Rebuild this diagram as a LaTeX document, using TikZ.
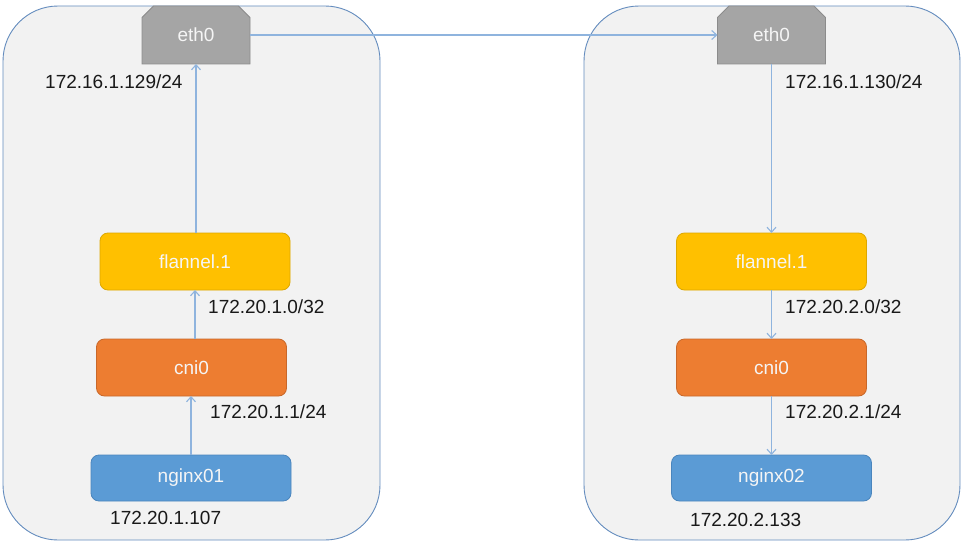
\documentclass[tikz,border=0pt]{standalone}
\usepackage{fontspec}
\setmainfont{Liberation Sans}
\usetikzlibrary{shapes.misc,arrows.meta}
\definecolor{contfill}{HTML}{F2F2F2}
\definecolor{contline}{RGB}{100,140,190}
\definecolor{ethfill}{HTML}{A5A5A5}
\definecolor{ethline}{HTML}{8C8C8C}
\definecolor{flfill}{HTML}{FFC000}
\definecolor{flline}{HTML}{DDA800}
\definecolor{cnifill}{HTML}{ED7D31}
\definecolor{cniline}{HTML}{C9682A}
\definecolor{ngfill}{HTML}{5B9BD5}
\definecolor{ngline}{HTML}{4A85BD}
\definecolor{arrcol}{HTML}{8FB4DE}
\definecolor{txtwhite}{HTML}{F5F5F5}
\begin{document}
\begin{tikzpicture}[x=1pt,y=-1pt,
  container/.style={draw=contline, fill=contfill, line width=0.9pt, rounded corners=55pt},
  ethbox/.style={chamfered rectangle, chamfered rectangle corners={north west,north east},
     chamfered rectangle xsep=9pt, chamfered rectangle ysep=4.5pt,
     draw=ethline, fill=ethfill, line width=0.8pt, minimum width=108pt, minimum height=58pt,
     inner sep=0pt, outer sep=0pt, text=txtwhite, font=\fontsize{19}{21}\selectfont},
  ifbox/.style={rounded corners=8pt, line width=0.8pt, minimum width=190pt, minimum height=57pt,
     inner sep=0pt, outer sep=0pt, text=txtwhite, font=\fontsize{19}{21}\selectfont},
  flbox/.style={ifbox, draw=flline, fill=flfill},
  cnibox/.style={ifbox, draw=cniline, fill=cnifill},
  ngbox/.style={ifbox, draw=ngline, fill=ngfill, minimum width=200pt, minimum height=46pt},
  lbl/.style={anchor=west, inner sep=0pt, text=black!90, font=\fontsize{19}{21}\selectfont},
  arr/.style={draw=arrcol, line width=1.1pt, -{Straight Barb[length=5pt,width=9pt]}}
]
\useasboundingbox (0,0) rectangle (964,543);
% containers
\path[container] (3,6) rectangle (380,540);
\path[container] (584,6) rectangle (960,540);
% left host
\node[ethbox] (leth) at (196,35) {eth0};
\node[flbox] (lfl) at (195,261.5) {flannel.1};
\node[cnibox] (lcni) at (191.5,367.5) {cni0};
\node[ngbox] (lng) at (191,478) {nginx01};
% right host
\node[ethbox] (reth) at (771.5,35) {eth0};
\node[flbox] (rfl) at (771.5,261.5) {flannel.1};
\node[cnibox] (rcni) at (771.5,367.5) {cni0};
\node[ngbox] (rng) at (771.5,478) {nginx02};
% connectors
\draw[arr] (leth.east) -- (reth.west);
\draw[arr] (lfl.north -| leth.south) -- (leth.south);
\draw[arr] (lcni.north -| lfl.south) -- (lfl.south);
\draw[arr] (lng.north) -- (lng.north |- lcni.south);
\draw[arr] (reth.south) -- (rfl.north);
\draw[arr] (rfl.south) -- (rcni.north);
\draw[arr] (rcni.south) -- (rng.north);
% labels
\node[lbl] (l1) at (45,82) {172.16.1.129/24};
\node[lbl] (l2) at (208,307) {172.20.1.0/32};
\node[lbl] (l3) at (210,412) {172.20.1.1/24};
\node[lbl] (l4) at (110,518) {172.20.1.107};
\node[lbl] (r1) at (785,82) {172.16.1.130/24};
\node[lbl] (r2) at (785,307) {172.20.2.0/32};
\node[lbl] (r3) at (785,412) {172.20.2.1/24};
\node[lbl] (r4) at (690,520) {172.20.2.133};
\end{tikzpicture}
\end{document}
